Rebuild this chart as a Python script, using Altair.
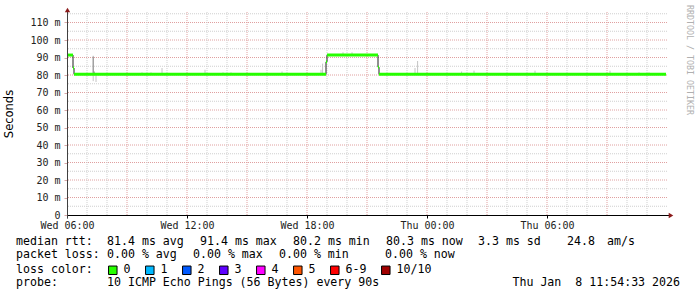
import altair as alt
import pandas as pd

# ---------------- data ----------------
# median rtt step series (hours since Wed 06:00, ms)
med_hours = [0, 0.3, 0.35, 12.95, 13.0, 15.55, 15.6, 29.95]
med_values = [91.4, 84.0, 80.4, 87.5, 91.4, 84.5, 80.4, 80.4]
med_loss = ["0", "0", "0", "0", "0", "0", "0", "0"]

# light smoke spikes (hours, low ms, high ms)
smoke_hours = [1.31, 1.45, 3.75, 4.2, 4.75, 6.9, 7.8, 8.2, 10.75, 12.7, 12.78,
               13.8, 14.25, 17.4, 17.53, 19.73, 20.35, 23.4, 27.15, 28.6, 29.1]
smoke_lo = [76.5, 76.0, 80, 80, 80, 80, 80, 80, 80, 80, 80,
            91, 91, 80, 80, 80, 80, 80, 80, 80, 80]
smoke_hi = [91.0, 80.5, 81.5, 81.5, 84, 83, 81.5, 81.5, 82, 83, 86.5,
            93, 93, 84, 88, 82, 82.5, 82.5, 82.5, 81.5, 81.5]
# darker smoke core
dark_hours = [1.31, 1.36]
dark_lo = [80.0, 80.0]
dark_hi = [90.5, 82.0]

loss_labels = ["0", "1", "2", "3", "4", "5", "6-9", "10/10"]
loss_colors = ["#26ff00", "#00b8ff", "#0059ff", "#5e00ff", "#ff00ff", "#ff5500", "#ff0000", "#a10000"]

y_ticks = [0, 10, 20, 30, 40, 50, 60, 70, 80, 90, 100, 110]
y_minor = [5, 15, 25, 35, 45, 55, 65, 75, 85, 95, 105, 115]
x_tick_hours = [0, 6, 12, 18, 24]
x_tick_labels = ["Wed 06:00", "Wed 12:00", "Wed 18:00", "Thu 00:00", "Thu 06:00"]
x_major = [3, 6, 9, 12, 15, 18, 21, 24, 27]
x_minor = [1, 2, 4, 5, 7, 8, 10, 11, 13, 14, 16, 17, 19, 20, 22, 23, 25, 26, 28, 29]

line1 = ["median rtt:", "81.4 ms avg", "91.4 ms max", "80.2 ms min", "80.3 ms now", "3.3 ms sd", "24.8", "am/s"]
line2 = ["packet loss:", "0.00 % avg", "0.00 % max", "0.00 % min", "0.00 % now"]
line4 = ["probe:", "10 ICMP Echo Pings (56 Bytes) every 90s"]
stamp = "Thu Jan \u00a08 11:54:33 2026"
y_title = "Seconds"
credit = "RRDTOOL / TOBI OETIKER"

# ---------------- layout ----------------
L, T = 67, 12
W, H = 600, 203
MONO = "DejaVu Sans Mono"
FS = 11.6
LINE1_X = [16, 107, 200, 293, 386, 478, 567, 607]
LINE2_X = [16, 107, 193, 279, 385]
LINE4_X = [16, 107]
ROW_Y = [241.5, 255, 269, 283]

xscale = alt.Scale(domain=[0, 30], nice=False, zero=False)
yscale = alt.Scale(domain=[0, 116], nice=False, zero=False)
label_js = "[" + ",".join("'%s'" % s for s in x_tick_labels) + "][round(datum.value/6)]"
xaxis = alt.Axis(values=x_tick_hours, labelExpr=label_js, grid=False, domain=False,
                 ticks=True, tickSize=3, tickColor="#000000", labelPadding=2,
                 labelFont=MONO, labelFontSize=10, labelColor="#222222", title=None,
                 labelFlush=False)
yaxis = alt.Axis(values=y_ticks, labelExpr="datum.value == 0 ? '0' : datum.value + ' m'",
                 grid=False, domain=False, ticks=True, tickSize=3, tickColor="#d8a8a8",
                 labelPadding=4, labelFont=MONO, labelFontSize=10, labelColor="#222222",
                 title=None)


def X(field):
    return alt.X(field, type="quantitative", scale=xscale, axis=xaxis)


def Y(field):
    return alt.Y(field, type="quantitative", scale=yscale, axis=yaxis)


def text_at(s, x, y, align="left", **kw):
    return alt.Chart(pd.DataFrame({"t": [s]})).mark_text(
        align=align, baseline="middle", font=kw.pop("font", MONO),
        fontSize=kw.pop("fontSize", FS), color=kw.pop("color", "#000000"), **kw
    ).encode(text="t:N", x=alt.value(x - L), y=alt.value(y - T))


# grid
g_hmin = alt.Chart(pd.DataFrame({"v": y_minor})).mark_rule(
    color="#cfcfcf", strokeDash=[1, 1], strokeWidth=1).encode(y=Y("v"))
g_hmaj = alt.Chart(pd.DataFrame({"v": y_ticks[1:]})).mark_rule(
    color="#e0a0a0", strokeDash=[1, 1], strokeWidth=1).encode(y=Y("v"))
g_vmin = alt.Chart(pd.DataFrame({"h": x_minor})).mark_rule(
    color="#cfcfcf", strokeDash=[1, 1], strokeWidth=1).encode(x=X("h"))
g_vmaj = alt.Chart(pd.DataFrame({"h": x_major})).mark_rule(
    color="#e0a0a0", strokeDash=[1, 1], strokeWidth=1).encode(x=X("h"))

# smoke
smoke = alt.Chart(pd.DataFrame({"h": smoke_hours, "lo": smoke_lo, "hi": smoke_hi})).mark_rule(
    color="#c4c4c4", strokeWidth=1).encode(x=X("h"), y=Y("lo"), y2="hi")
smoke_d = alt.Chart(pd.DataFrame({"h": dark_hours, "lo": dark_lo, "hi": dark_hi})).mark_rule(
    color="#8c8c8c", strokeWidth=1).encode(x=X("h"), y=Y("lo"), y2="hi")

# median black step line
med_df = pd.DataFrame({"h": med_hours, "v": med_values, "loss": med_loss})
med_line = alt.Chart(med_df).mark_line(interpolate="step-after", color="#202020", strokeWidth=1).encode(
    x=X("h"), y=Y("v"))

# loss-coloured median segments
seg_df = pd.DataFrame({"t0": med_hours[:-1], "t1": med_hours[1:], "v": med_values[:-1], "loss": med_loss[:-1]})
seg = alt.Chart(seg_df).transform_calculate(
    lo="datum.v - 0.85", hi="datum.v + 0.85"
).mark_rect().encode(
    x=X("t0"), x2="t1", y=Y("lo"), y2="hi",
    color=alt.Color("loss:N", scale=alt.Scale(domain=loss_labels, range=loss_colors),
                    legend=alt.Legend(
                        title="loss color:", orient="none", direction="horizontal",
                        legendX=16 - L, legendY=264 - T, titleOrient="left",
                        titleFont=MONO, titleFontSize=FS, titleFontWeight="normal",
                        titleColor="#000000", titlePadding=14, titleBaseline="middle",
                        labelFont=MONO, labelFontSize=FS, labelColor="#000000",
                        symbolType="square", symbolSize=72, symbolStrokeColor="#000000",
                        symbolStrokeWidth=1, symbolOpacity=1, labelOffset=5,
                        columnPadding=12, padding=0, gridAlign="each", values=loss_labels)))

# axes lines and arrows
x_line = alt.Chart(pd.DataFrame({"a": [0]})).mark_rule(color="#000000", strokeWidth=1).encode(
    x=alt.value(0), x2=alt.value(W + 3), y=alt.value(H + 0.5))
y_line = alt.Chart(pd.DataFrame({"a": [0]})).mark_rule(color="#404040", strokeWidth=1).encode(
    x=alt.value(0.5), y=alt.value(-2), y2=alt.value(H + 3))
arrow_up = alt.Chart(pd.DataFrame({"a": [0]})).mark_point(
    shape="triangle-up", filled=True, size=28, color="#8b1a1a", opacity=1).encode(
    x=alt.value(0.5), y=alt.value(-2))
arrow_right = alt.Chart(pd.DataFrame({"a": [0]})).mark_point(
    shape="triangle-right", filled=True, size=28, color="#8b1a1a", opacity=1).encode(
    x=alt.value(W + 4), y=alt.value(H + 0.5))

layers = [g_hmin, g_hmaj, g_vmin, g_vmaj, smoke, smoke_d, med_line, seg,
          x_line, y_line, arrow_up, arrow_right]

# text rows
for s, x in zip(line1, LINE1_X):
    layers.append(text_at(s, x, ROW_Y[0]))
for s, x in zip(line2, LINE2_X):
    layers.append(text_at(s, x, ROW_Y[1]))
for s, x in zip(line4, LINE4_X):
    layers.append(text_at(s, x, ROW_Y[3]))
layers.append(text_at(stamp, 680, ROW_Y[3], align="right"))
layers.append(text_at(y_title, 10, 114, align="center", font="DejaVu Sans", fontSize=11.5, angle=270))
layers.append(text_at(credit, 688.5, 60, align="center", fontSize=8.3, color="#b0b0b0", angle=90))

chart = alt.layer(*layers).properties(
    width=W, height=H,
    autosize=alt.AutoSizeParams(type="none"),
    padding={"left": L, "top": T, "right": 697 - L - W, "bottom": 297 - T - H},
    background="#ffffff",
).configure_view(stroke=None)

chart.save("out.html", embed_options={"renderer": "svg", "actions": False})
